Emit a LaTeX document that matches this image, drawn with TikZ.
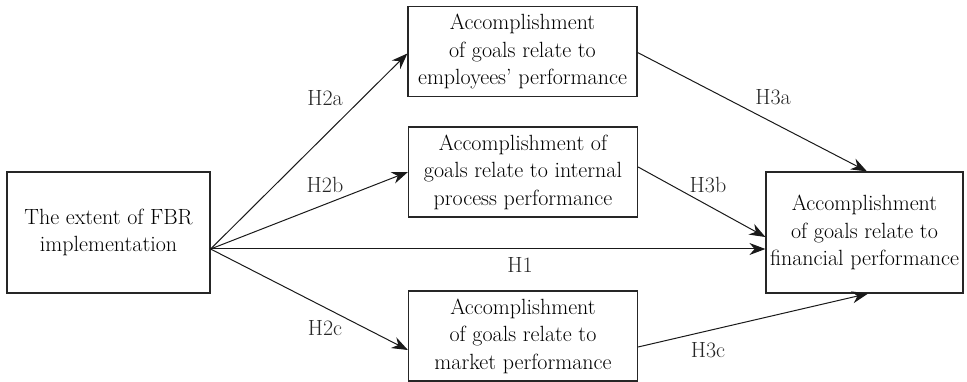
\documentclass[tikz,border=0pt]{standalone}
\usepackage{fontspec}
\usepackage{xcolor}
\usepackage{tikz}
\usetikzlibrary{arrows.meta}
\tikzstyle{source} = [rectangle, minimum width=203pt, minimum height=121pt, inner sep=0pt, text centered, draw=black!85, line width=1.2pt]
\tikzstyle{process} = [rectangle, minimum width=229pt, minimum height=90pt, inner sep=0pt, text centered, draw=black!85, line width=1.2pt]
\tikzstyle{target} = [rectangle, minimum width=197pt, minimum height=121pt, inner sep=0pt, text centered, draw=black!85, line width=1.2pt]
\tikzstyle{hyp} = [inner sep=0pt, text=black!85]
\tikzstyle{arrow} = [line width=1pt, draw=black!90, -{Stealth[length=16pt,width=12pt]}]

\begin{document}
\begin{tikzpicture}[x=1pt, y=-1pt, align=center, font=\fontsize{22}{27.5}\selectfont]
    \useasboundingbox (0,0) rectangle (967,382);

    % Nodes
    \node (fbr) [source] at (108.5,232.5) {The extent of FBR\\implementation};
    \node (emp) [process] at (522.5,51.5) {Accomplishment\\of goals relate to\\employees' performance};
    \node (proc) [process] at (523,172) {Accomplishment of\\goals relate to internal\\process performance};
    \node (mkt) [process] at (523,336) {Accomplishment\\of goals relate to\\market performance};
    \node (fin) [target] at (864.5,232.5) {Accomplishment\\of goals relate to\\financial performance};

    % Arrows
    \draw [arrow] ([yshift=-16.5pt]fbr.east) -- ([yshift=-2pt]emp.west);
    \draw [arrow] ([yshift=-16.5pt]fbr.east) -- (proc.west);
    \draw [arrow] ([yshift=-16.5pt]fbr.east) -- ([yshift=-16.5pt]fin.west);
    \draw [arrow] ([yshift=-16.5pt]fbr.east) -- ([yshift=-14pt]mkt.west);
    \draw [arrow] ([yshift=-1pt]emp.east) -- ([xshift=2.5pt]fin.north);
    \draw [arrow] ([yshift=5pt]proc.east) -- ([yshift=-4.5pt]fin.west);
    \draw [arrow] ([yshift=-11pt]mkt.east) -- ([xshift=3.5pt]fin.south);

    % Labels
    \node (h2a) [hyp] at (325,98) {H2a};
    \node (h2b) [hyp] at (325,185) {H2b};
    \node (h1) [hyp] at (520,265) {H1};
    \node (h2c) [hyp] at (325,328) {H2c};
    \node (h3a) [hyp] at (773,97) {H3a};
    \node (h3b) [hyp] at (708,185) {H3b};
    \node (h3c) [hyp] at (708,350) {H3c};

\end{tikzpicture}
\end{document}
